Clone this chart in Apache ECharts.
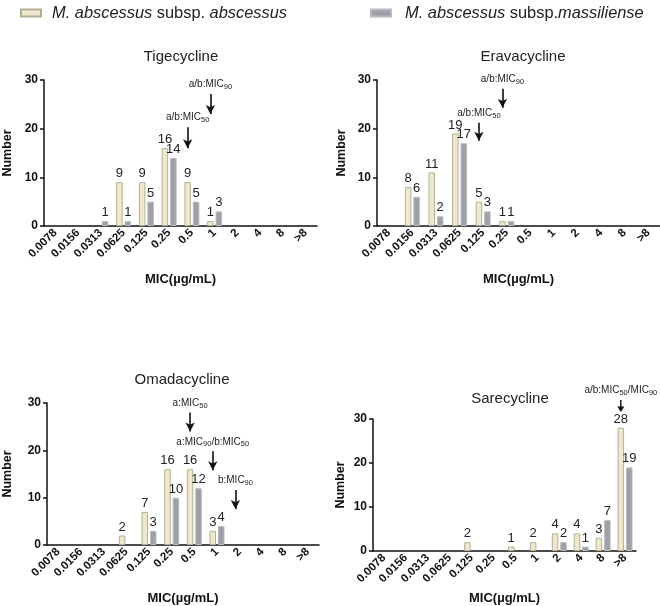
<!DOCTYPE html>
<html><head><meta charset="utf-8">
<script src="https://cdn.jsdelivr.net/npm/echarts@6/dist/echarts.min.js"></script>
<style>html,body{margin:0;padding:0;background:#fff}#c{width:660px;height:606px}</style>
</head><body><div id="c"></div>
<script>
const categories = ['0.0078','0.0156','0.0313','0.0625','0.125','0.25','0.5','1','2','4','8','>8'];
const seriesNames = ['M. abscessus subsp. abscessus','M. abscessus subsp.massiliense'];
const panelTitles = ['Tigecycline','Eravacycline','Omadacycline','Sarecycline'];
const tigeA = [0,0,0,9,9,16,9,1,0,0,0,0];
const tigeB = [0,0,1,1,5,14,5,3,0,0,0,0];
const eravA = [0,8,11,19,5,1,0,0,0,0,0,0];
const eravB = [0,6,2,17,3,1,0,0,0,0,0,0];
const omadA = [0,0,0,2,7,16,16,3,0,0,0,0];
const omadB = [0,0,0,0,3,10,12,4,0,0,0,0];
const sareA = [0,0,0,0,2,0,1,2,4,4,3,28];
const sareB = [0,0,0,0,0,0,0,0,2,1,7,19];
const yTicks = [0,10,20,30];
// arrow annotations: [category, label, yFrom, yTo]
const tigeArrows = [['1','a/b:MIC{s|90}',27.1,23.0],['0.5','a/b:MIC{s|50}',20.3,16.0]];
const eravArrows = [['0.25','a/b:MIC{s|90}',28.2,24.3],['0.125','a/b:MIC{s|50}',21.2,17.5]];
const omadArrows = [['0.5','a:MIC{s|50}',28.0,24.0],['1','a:MIC{s|90}/b:MIC{s|50}',19.8,15.8],['2','b:MIC{s|90}',11.6,7.6]];
// arrow placed just above the top of the axis (value 30) at '>8'
const sareArrowPoint = ['>8','a/b:MIC{s|50}/MIC{s|90}',30];

const FONT = 'Liberation Sans, Arial, Helvetica, sans-serif';
const colA = '#efe9cb', borderA = '#b3ae98';
const colB = '#9f9fa7', borderB = '#b9b9be';

const grids = [
  {left:35, right:343, top:80, height:146, yGap:30, xGap:47, tTop:44, tLeft:176},
  {left:377, right:0, top:80, height:146, yGap:29, xGap:47, tTop:44, tLeft:518},
  {left:35, right:341, top:403, height:147, yGap:33, xGap:47, tTop:367, tLeft:177},
  {left:373, right:24, top:419, height:137, yGap:26, xGap:41, tTop:386, tLeft:505}
];
const dataA = [tigeA, eravA, omadA, sareA];
const dataB = [tigeB, eravB, omadB, sareB];
const arrows = [tigeArrows, eravArrows, omadArrows, []];

const subRich = {s:{fontSize:7.5, padding:[5,0,0,0], color:'#222', fontFamily:FONT}};
const legendPos = [{left:20, pad:6}, {left:370, pad:9}];
const option = {
  animation:false,
  textStyle:{fontFamily:FONT},
  title: grids.map((g,i)=>({text:panelTitles[i], left:g.tLeft, top:g.tTop, textAlign:'center',
    textStyle:{fontSize:15, fontWeight:'normal', color:'#222', fontFamily:FONT}})),
  legend: seriesNames.map((n,i)=>({data:[n], left:legendPos[i].left, top:5, padding:0, itemWidth:20, itemHeight:7, itemGap:8,
    icon:'rect',
    formatter: i===0 ? '{it|M. abscessus} subsp. {it|abscessus}' : '{it|M. abscessus} subsp.{it|massiliense}',
    textStyle:{fontSize:16.4, color:'#222', fontFamily:FONT, padding:[0,0,0,legendPos[i].pad],
      rich:{it:{fontStyle:'italic', fontSize:16.4, color:'#222', fontFamily:FONT}}}})),
  grid: grids.map(g=>({left:g.left, right:g.right, top:g.top, height:g.height, containLabel:false})),
  xAxis: grids.map((g,i)=>({type:'category', gridIndex:i, data:categories,
    name:'MIC(µg/mL)', nameLocation:'middle', nameGap:g.xGap,
    nameTextStyle:{fontWeight:'bold', fontSize:13, color:'#111', fontFamily:FONT},
    axisLine:{lineStyle:{color:'#111', width:1.5}}, axisTick:{show:false},
    axisLabel:{rotate:45, interval:0, fontWeight:'bold', fontSize:11.5, color:'#111', margin:5, fontFamily:FONT}})),
  yAxis: grids.map((g,i)=>({type:'value', gridIndex:i, min:yTicks[0], max:yTicks[yTicks.length-1], interval:10,
    name:'Number', nameLocation:'middle', nameGap:g.yGap,
    nameTextStyle:{fontWeight:'bold', fontSize:12.5, color:'#111', fontFamily:FONT},
    axisLine:{show:true, lineStyle:{color:'#111', width:1.5}},
    axisTick:{show:true, length:4, lineStyle:{color:'#111', width:1.5}},
    splitLine:{show:false},
    axisLabel:{fontWeight:'bold', fontSize:12, color:'#111', margin:6, fontFamily:FONT}})),
  series: []
};
const lbl = {show:true, position:'top', distance:2, fontSize:13, color:'#222', fontFamily:FONT,
  formatter: p => p.value ? String(p.value) : ''};
const nz = arr => arr.map(v => v === 0 ? null : v);
grids.forEach((g,i)=>{
  const s = {name:seriesNames[0], type:'bar', xAxisIndex:i, yAxisIndex:i, data:nz(dataA[i]),
    barWidth:6.5, barGap:'30%', clip:false,
    itemStyle:{color:colA, borderColor:borderA, borderWidth:1}, label:lbl};
  if (arrows[i].length) {
    s.markLine = {silent:true, symbol:['none','arrow'], symbolSize:[7,9], animation:false,
      lineStyle:{color:'#111', width:1.6, type:'solid'},
      label:{show:true, position:'start', distance:3, formatter: p => p.data.lab || '', fontSize:10, color:'#222', fontFamily:FONT, rich:subRich},
      data: arrows[i].map(a=>[{coord:[a[0],a[2]], lab:a[1]},{coord:[a[0],a[3]]}])};
  } else {
    s.markPoint = {silent:true, animation:false,
      symbol:'path://M3.2,0 H4.8 V7 H8 L4,13 L0,7 H3.2 Z', symbolSize:[7,12], symbolOffset:[0,-13],
      itemStyle:{color:'#111'},
      label:{show:true, position:'top', distance:3, formatter: p => p.data.lab, fontSize:10, color:'#222', fontFamily:FONT, rich:subRich},
      data:[{coord:[sareArrowPoint[0], sareArrowPoint[2]], lab:sareArrowPoint[1]}]};
  }
  option.series.push(s);
  option.series.push({name:seriesNames[1], type:'bar', xAxisIndex:i, yAxisIndex:i, data:nz(dataB[i]),
    barWidth:6.5, barGap:'30%',
    itemStyle:{color:colB, borderColor:borderB, borderWidth:1}, label:lbl});
});
const chart = echarts.init(document.getElementById('c'), null, {renderer:'canvas'});
chart.setOption(option);
</script></body></html>
